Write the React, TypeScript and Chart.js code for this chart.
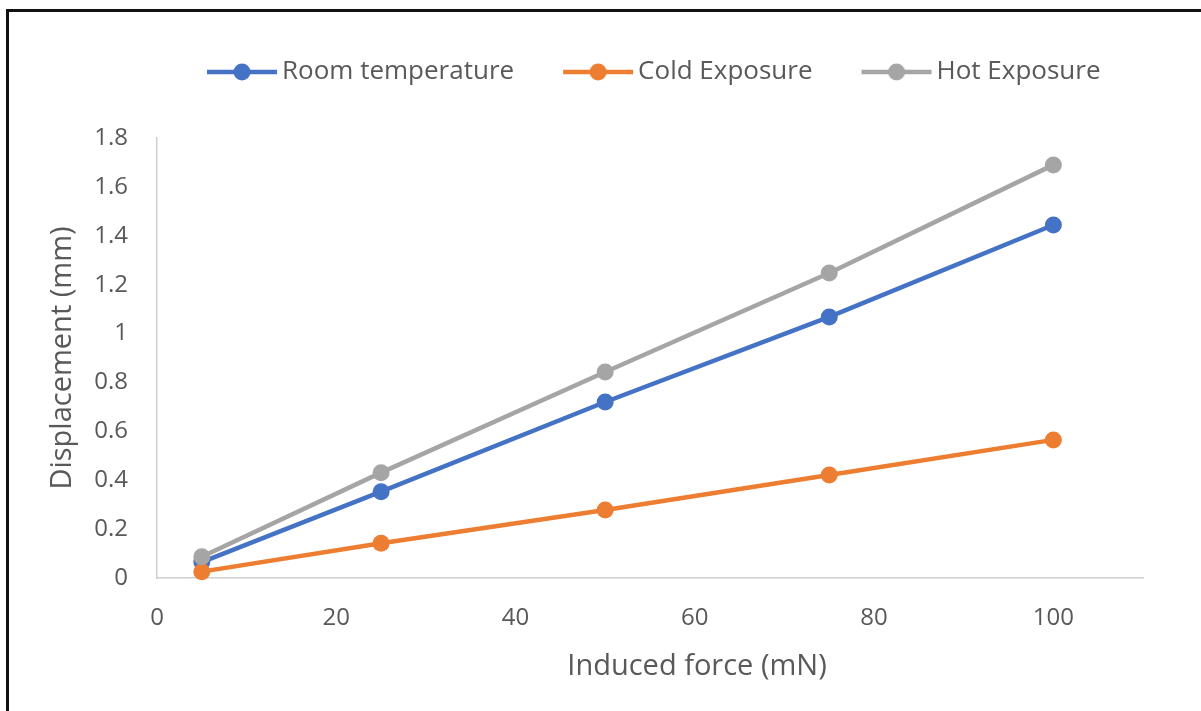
import React, { useEffect, useRef } from "react";
import { Chart, registerables } from "chart.js";

Chart.register(...registerables);

// ---- data ----
const forces = [5, 25, 50, 75, 100];
const roomTemperature = [0.065, 0.353, 0.72, 1.068, 1.444];
const coldExposure = [0.026, 0.142, 0.278, 0.421, 0.565];
const hotExposure = [0.087, 0.431, 0.843, 1.248, 1.69];
const seriesNames = ["Room temperature", "Cold Exposure", "Hot Exposure"];
const seriesColors = ["#4472C4", "#ED7D31", "#A5A5A5"];
const xTicks = [0, 20, 40, 60, 80, 100];
const yTicks = [0, 0.2, 0.4, 0.6, 0.8, 1, 1.2, 1.4, 1.6, 1.8];
const xTitle = "Induced force (mN)";
const yTitle = "Displacement (mm)";

const TEXT = "#595959";
const AXIS = "#cfcfcf";
const FONT = '"Open Sans", "DejaVu Sans", sans-serif';

function legendIcon(color: string) {
  const c = document.createElement("canvas");
  c.width = 72;
  c.height = 20;
  const ctx = c.getContext("2d")!;
  ctx.strokeStyle = color;
  ctx.lineWidth = 4.5;
  ctx.beginPath();
  ctx.moveTo(1, 10);
  ctx.lineTo(71, 10);
  ctx.stroke();
  ctx.fillStyle = color;
  ctx.beginPath();
  ctx.arc(36, 10, 8.5, 0, Math.PI * 2);
  ctx.fill();
  return c;
}

const legendShift = {
  id: "legendShift",
  afterLayout(chart: any) {
    const lg = chart.legend;
    if (!lg || !lg.lineWidths) return;
    const pad = lg.options.labels.padding;
    const current = (lg.left + pad + lg.right - lg.lineWidths[0]) / 2;
    const shiftX = 215 - current;
    lg.left += shiftX;
    lg.right += shiftX;
    const shiftY = 2 - lg.top;
    lg.top += shiftY;
    lg.bottom += shiftY;
  },
};

const xTitlePlugin = {
  id: "xTitlePlugin",
  afterDraw(chart: any) {
    const { ctx, chartArea } = chart;
    ctx.save();
    ctx.font = `29px ${FONT}`;
    ctx.fillStyle = TEXT;
    ctx.textAlign = "center";
    ctx.textBaseline = "alphabetic";
    ctx.fillText(xTitle, chartArea.left + 540, chartArea.bottom + 97);
    ctx.restore();
  },
};

export default function App() {
  const ref = useRef<HTMLCanvasElement | null>(null);

  useEffect(() => {
    if (!ref.current) return;
    Chart.defaults.font.family = FONT;
    const series = [roomTemperature, coldExposure, hotExposure];
    const icons = seriesColors.map((c) => legendIcon(c));
    const chart = new Chart(ref.current, {
      type: "line",
      data: {
        datasets: series.map((vals, i) => ({
          label: seriesNames[i],
          data: forces.map((x, j) => ({ x, y: vals[j] })),
          borderColor: seriesColors[i],
          backgroundColor: seriesColors[i],
          borderWidth: 4.5,
          pointRadius: 8.5,
          pointHoverRadius: 8.5,
          pointBorderWidth: 0,
          pointBackgroundColor: seriesColors[i],
          tension: 0,
          order: 2 - i,
          clip: false as any,
        })),
      },
      options: {
        responsive: false,
        animation: false,
        devicePixelRatio: 1,
        layout: { padding: { left: 0, top: 0, right: 58, bottom: 0 } },
        plugins: {
          tooltip: { enabled: false },
          legend: {
            display: true,
            position: "top",
            labels: {
              usePointStyle: true,
              pointStyleWidth: 54,
              padding: 57,
              color: TEXT,
              font: { size: 26 },
              generateLabels: (ch: any) =>
                ch.data.datasets.map((ds: any, i: number) => ({
                  text: ds.label,
                  pointStyle: icons[i],
                  fillStyle: seriesColors[i],
                  strokeStyle: seriesColors[i],
                  lineWidth: 1,
                  fontColor: TEXT,
                  hidden: false,
                  datasetIndex: i,
                })),
            },
          },
        },
        scales: {
          x: {
            type: "linear",
            min: 0,
            max: 110,
            afterBuildTicks: (s: any) => {
              s.ticks = xTicks.map((v) => ({ value: v }));
            },
            afterFit: (s: any) => {
              s.height = 133;
            },
            ticks: {
              padding: 26,
              color: TEXT,
              font: { size: 24 },
              maxRotation: 0,
              autoSkip: false,
            },
            grid: { display: false, drawTicks: false },
            border: { display: true, color: AXIS, width: 1.5 },
          },
          y: {
            type: "linear",
            min: 0,
            max: 1.8,
            afterBuildTicks: (s: any) => {
              s.ticks = yTicks.map((v) => ({ value: v }));
            },
            afterFit: (s: any) => {
              s.width = 157;
              s.paddingTop = 138;
            },
            ticks: {
              padding: 29,
              color: TEXT,
              font: { size: 24 },
              callback: (v: any) => String(Number(Number(v).toFixed(1))),
            },
            grid: { display: false, drawTicks: false },
            border: { display: true, color: AXIS, width: 1.5 },
            title: {
              display: true,
              text: yTitle,
              color: TEXT,
              font: { size: 29 },
              padding: { top: 45.5, bottom: 0 },
            },
          },
        },
      },
      plugins: [legendShift, xTitlePlugin],
    } as any);
    return () => chart.destroy();
  }, []);

  return (
    <div
      style={{
        position: "fixed",
        left: 0,
        top: 0,
        width: 1201,
        height: 711,
        background: "#ffffff",
        overflow: "hidden",
      }}
    >
      <canvas ref={ref} width={1201} height={711} style={{ display: "block" }} />
      <div
        style={{
          position: "absolute",
          left: 6,
          top: 9,
          right: -10,
          bottom: -10,
          borderLeft: "3px solid #111",
          borderTop: "3px solid #111",
          pointerEvents: "none",
        }}
      />
    </div>
  );
}
